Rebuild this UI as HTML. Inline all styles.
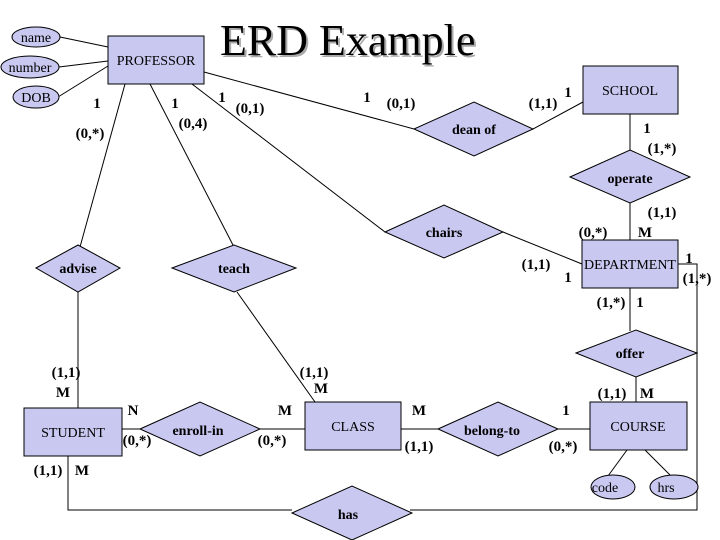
<!DOCTYPE html>
<html><head><meta charset="utf-8"><style>
body{margin:0;background:#fff}
svg{display:block}
text{font-family:"Liberation Serif",serif;font-size:14px;fill:#000}
.b{font-weight:bold}
.c text{font-size:15px}
.e{font-size:13px}
</style></head><body>
<svg width="720" height="540" viewBox="0 0 720 540" xmlns="http://www.w3.org/2000/svg">
<g stroke="#000" stroke-width="1" fill="none">
<line x1="60" y1="37" x2="108" y2="47"/>
<line x1="59" y1="67" x2="108" y2="61"/>
<line x1="58" y1="97" x2="108" y2="66"/>
<line x1="125" y1="84" x2="80" y2="247"/>
<line x1="150" y1="84" x2="234" y2="247"/>
<line x1="192" y1="84" x2="385" y2="232"/>
<line x1="204" y1="72" x2="414" y2="129"/>
<line x1="533" y1="129" x2="583" y2="102"/>
<line x1="630" y1="114" x2="630" y2="150"/>
<line x1="630" y1="203" x2="630" y2="240"/>
<line x1="503" y1="232" x2="582" y2="264"/>
<polyline points="678,264 697,264 697,510 410,510"/>
<polyline points="292,510 68,510 68,456"/>
<line x1="630" y1="288" x2="630" y2="331"/>
<line x1="636" y1="377" x2="636" y2="402"/>
<line x1="78" y1="292" x2="78" y2="408"/>
<line x1="237" y1="292" x2="315" y2="402"/>
<line x1="122" y1="429" x2="140" y2="429"/>
<line x1="260" y1="429" x2="305" y2="429"/>
<line x1="401" y1="429" x2="438" y2="429"/>
<line x1="558" y1="429" x2="590" y2="429"/>
<line x1="627" y1="450" x2="608" y2="476"/>
<line x1="645" y1="450" x2="671" y2="476"/>
</g>
<g fill="#c8c8f0" stroke="#000" stroke-width="1">
<ellipse cx="36" cy="37" rx="24" ry="10"/>
<ellipse cx="30" cy="67" rx="29" ry="11"/>
<ellipse cx="36" cy="97" rx="23" ry="11"/>
<rect x="108" y="36" width="96" height="48"/>
<rect x="583" y="66" width="95" height="48"/>
<rect x="582" y="240" width="96" height="48"/>
<rect x="24" y="408" width="98" height="48"/>
<rect x="305" y="402" width="96" height="48"/>
<rect x="590" y="402" width="97" height="48"/>
<ellipse cx="613" cy="487" rx="22" ry="12"/>
<ellipse cx="674" cy="487" rx="24" ry="12"/>
<polygon points="414,129 474,102 533,129 474,156"/>
<polygon points="570,177 630,150 690,177 630,203"/>
<polygon points="385,232 444,205 503,232 444,258"/>
<polygon points="36,268 78,245 120,268 78,292"/>
<polygon points="172,268 234,245 296,268 234,292"/>
<polygon points="576,353 636,330 697,353 636,377"/>
<polygon points="140,429 200,402 260,429 200,456"/>
<polygon points="438,429 498,402 558,429 498,456"/>
<polygon points="292,513 352,486 412,513 352,540"/>
</g>
<text x="222" y="57" style="font-size:44px;fill:#aaa">ERD Example</text>
<text x="220" y="55" style="font-size:44px">ERD Example</text>
<g class="e" text-anchor="middle">
<text x="36" y="42">name</text>
<text x="30" y="72">number</text>
<text x="36" y="102">DOB</text>
<text x="156" y="65">PROFESSOR</text>
<text x="630" y="95">SCHOOL</text>
<text x="630" y="269">DEPARTMENT</text>
<text x="73" y="437">STUDENT</text>
<text x="353" y="431">CLASS</text>
<text x="638" y="431">COURSE</text>
<text x="605" y="492">code</text>
<text x="666" y="492">hrs</text>
</g>
<g class="b" text-anchor="middle" style="font-size:15px">
<text x="474" y="134">dean of</text>
<text x="630" y="183">operate</text>
<text x="444" y="237">chairs</text>
<text x="78" y="273">advise</text>
<text x="234" y="273">teach</text>
<text x="630" y="358">offer</text>
<text x="198" y="435">enroll-in</text>
<text x="492" y="435">belong-to</text>
<text x="348" y="519">has</text>
</g>
<g class="b c" text-anchor="middle">
<text x="97" y="108">1</text><text x="90" y="138">(0,*)</text>
<text x="175" y="108">1</text><text x="193" y="128">(0,4)</text>
<text x="222" y="102">1</text><text x="250" y="113">(0,1)</text>
<text x="367" y="102">1</text><text x="401" y="108">(0,1)</text>
<text x="543" y="108">(1,1)</text><text x="568" y="97">1</text>
<text x="647" y="133">1</text><text x="662" y="153">(1,*)</text>
<text x="662" y="217">(1,1)</text>
<text x="593" y="237">(0,*)</text><text x="645" y="237">M</text>
<text x="536" y="269">(1,1)</text><text x="568" y="282">1</text>
<text x="689" y="263">1</text><text x="697" y="283">(1,*)</text>
<text x="611" y="307">(1,*)</text><text x="640" y="307">1</text>
<text x="66" y="377">(1,1)</text><text x="63" y="397">M</text>
<text x="314" y="377">(1,1)</text><text x="321" y="393">M</text>
<text x="133" y="415">N</text><text x="137" y="445">(0,*)</text>
<text x="285" y="415">M</text><text x="272" y="445">(0,*)</text>
<text x="419" y="415">M</text><text x="419" y="451">(1,1)</text>
<text x="566" y="415">1</text><text x="563" y="451">(0,*)</text>
<text x="612" y="398">(1,1)</text><text x="647" y="398">M</text>
<text x="48" y="475">(1,1)</text><text x="82" y="475">M</text>
</g>
</svg>
</body></html>
